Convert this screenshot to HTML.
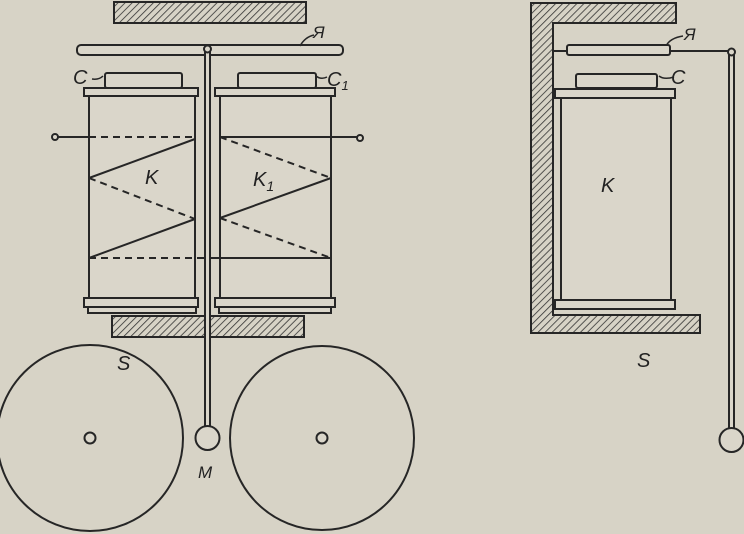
<!DOCTYPE html>
<html><head><meta charset="utf-8"><style>
html,body{margin:0;padding:0;background:#d7d3c6;}
svg{display:block;}
text{font-family:"Liberation Sans",sans-serif;font-style:italic;fill:#222;}
</style></head><body>
<svg width="744" height="534" viewBox="0 0 744 534" xmlns="http://www.w3.org/2000/svg">
<defs>
<pattern id="h" width="5" height="5" patternUnits="userSpaceOnUse" patternTransform="rotate(45)">
<rect width="5" height="5" fill="#d7d3c6"/><line x1="0" y1="0" x2="0" y2="5" stroke="#333" stroke-width="1.6"/>
</pattern>
</defs>
<rect width="744" height="534" fill="#d7d3c6"/>
<g stroke="#262626" stroke-width="2" fill="#dad6ca">
<!-- left assembly -->
<rect x="114" y="2" width="192" height="21" fill="url(#h)"/>
<rect x="112" y="316" width="192" height="21" fill="url(#h)"/>
<rect x="77" y="45" width="266" height="10" rx="4"/>
<rect x="105" y="73" width="77" height="15" rx="2"/>
<rect x="238" y="73" width="78" height="15" rx="2"/>
<rect x="84" y="88" width="114" height="8"/>
<rect x="215" y="88" width="120" height="8"/>
<rect x="89" y="96" width="106" height="202"/>
<rect x="220" y="96" width="111" height="202"/>
<rect x="88" y="306" width="108" height="7"/>
<rect x="219" y="306" width="112" height="7"/>
<rect x="84" y="298" width="114" height="9"/>
<rect x="215" y="298" width="120" height="9"/>
<rect x="205" y="50" width="5" height="390"/>
<circle cx="207.5" cy="49" r="3.5"/>
<circle cx="207.5" cy="438" r="12"/>
<circle cx="90" cy="438" r="93" fill="none"/>
<circle cx="322" cy="438" r="92" fill="none"/>
<circle cx="90" cy="438" r="5.5"/>
<circle cx="322" cy="438" r="5.5"/>
<circle cx="55" cy="137" r="3"/>
<circle cx="360" cy="138" r="3"/>
</g>
<g stroke="#262626" stroke-width="2" fill="none">
<line x1="58" y1="137" x2="89" y2="137"/>
<line x1="89" y1="137" x2="195" y2="137" stroke-dasharray="7,5"/>
<line x1="220" y1="137" x2="357" y2="137"/>
<line x1="195" y1="139" x2="89" y2="178"/>
<line x1="89" y1="178" x2="195" y2="219" stroke-dasharray="7,5"/>
<line x1="195" y1="219" x2="89" y2="258"/>
<line x1="89" y1="258" x2="204" y2="258" stroke-dasharray="7,5"/>
<line x1="211" y1="258" x2="331" y2="258"/>
<line x1="220" y1="137" x2="331" y2="178" stroke-dasharray="7,5"/>
<line x1="331" y1="178" x2="220" y2="218"/>
<line x1="220" y1="218" x2="331" y2="258" stroke-dasharray="7,5"/>
<path d="M103 76 Q99 80 92 79" stroke-width="1.5"/>
<path d="M316 76 Q321 80 327 77" stroke-width="1.5"/>
<path d="M300 46 Q305 37 314 35" stroke-width="1.5"/>
<path d="M659 76 Q664 80 674 77" stroke-width="1.5"/>
<path d="M666 46 Q670 38 683 36" stroke-width="1.5"/>
</g>
<!-- right assembly -->
<g stroke="#262626" stroke-width="2" fill="#dad6ca">
<path d="M531 3 H676 V23 H553 V315 H700 V333 H531 Z" fill="url(#h)"/>
<rect x="567" y="45" width="103" height="10" rx="2"/>
<rect x="576" y="74" width="81" height="14" rx="2"/>
<rect x="555" y="89" width="120" height="9"/>
<rect x="561" y="98" width="110" height="202"/>
<rect x="555" y="300" width="120" height="9"/>
<rect x="729" y="52" width="5" height="380"/>
<circle cx="731.5" cy="52" r="3.5"/>
<circle cx="731.5" cy="440" r="12"/>
</g>
<g stroke="#262626" stroke-width="2">
<line x1="553" y1="51" x2="567" y2="51"/>
<line x1="670" y1="51" x2="728" y2="51"/>
</g>
<g font-size="20">
<text x="145" y="184">K</text>
<text x="253" y="186">K<tspan font-size="14" dy="5">1</tspan></text>
<text x="73" y="84">C</text>
<text x="327" y="86">C<tspan font-size="13" dy="4">1</tspan></text>
<text x="313" y="38" font-size="17">Я</text>
<text x="117" y="370">S</text>
<text x="198" y="478" font-size="17">M</text>
<text x="601" y="192">K</text>
<text x="671" y="84">C</text>
<text x="684" y="40" font-size="17">Я</text>
<text x="637" y="367">S</text>
</g>
</svg>
</body></html>
